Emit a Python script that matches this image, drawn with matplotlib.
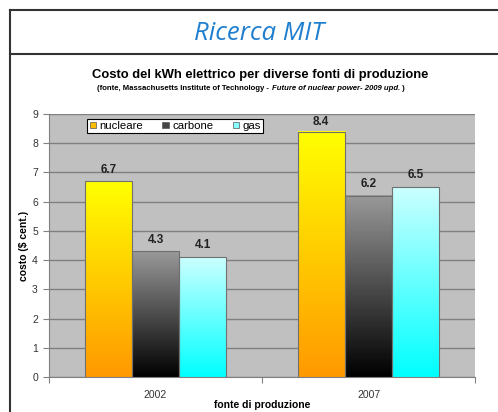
import numpy as np
import matplotlib
matplotlib.use("Agg")
import matplotlib.pyplot as plt
from matplotlib.patches import Patch

anni = ["2002", "2007"]
fonti = ["nucleare", "carbone", "gas"]
nucleare = [6.7, 8.4]
carbone = [4.3, 6.2]
gas = [4.1, 6.5]

# colori del gradiente (alto, basso) per ogni fonte
gradienti = {
    "nucleare": ("#ffff00", "#ff9900"),
    "carbone": ("#999999", "#000000"),
    "gas": ("#ccffff", "#00ffff"),
}

W, H = 498, 412
fig = plt.figure(figsize=(W / 100, H / 100), dpi=100)
fig.patch.set_facecolor("white")

# cornice della slide
def px(x, y):
    return x / W, 1 - y / H

for (x0, y0), (x1, y1) in [((10, 10), (498, 10)), ((10, 54), (498, 54)), ((10, 10), (10, 412))]:
    a, b = px(x0, y0)
    c, d = px(x1, y1)
    fig.add_artist(plt.Line2D([a, c], [b, d], color="#333333", lw=1.5))

fig.text(259 / W, 1 - 34 / H, "Ricerca MIT", fontsize=18.5, style="italic",
         color="#1f7fcf", ha="center", va="center", family="Open Sans")

fig.text(260 / W, 1 - 75 / H, "Costo del kWh elettrico per diverse fonti di produzione",
         fontsize=9.4, weight="bold", ha="center", va="center", family="Liberation Sans")

# sottotitolo con parte in corsivo, centrato a mano
parti = [("(fonte, Massachusetts Institute of Technology - ", "normal"),
         ("Future of nuclear power- 2009 upd.", "italic"),
         (" )", "normal")]
r = fig.canvas.get_renderer()
pezzi = [fig.text(0, 1 - 90 / H, s, fontsize=5.6, weight="bold", style=st,
                  va="baseline", family="Liberation Sans") for s, st in parti]
larg = [p.get_window_extent(r).width for p in pezzi]
xcur = 251 * fig.bbox.width / W - sum(larg) / 2
for p, lw_ in zip(pezzi, larg):
    p.set_x(xcur / fig.bbox.width)
    xcur += lw_

ax = fig.add_axes([49 / W, 35 / H, 426 / W, 263 / H])
ax.set_facecolor("#c0c0c0")

x = np.arange(len(anni))
w = 0.222
valori = {"nucleare": nucleare, "carbone": carbone, "gas": gas}
ymax = 9

for i, f in enumerate(fonti):
    bars = ax.bar(x + (i - 1) * w, valori[f], width=w, facecolor="none",
                  edgecolor="#707070", linewidth=0.8, zorder=4)
    alto, basso = gradienti[f]
    cmap = matplotlib.colors.LinearSegmentedColormap.from_list(f, [basso, alto])
    for b, v in zip(bars, valori[f]):
        grad = np.linspace(0, 1, 256).reshape(-1, 1)
        ax.imshow(grad, cmap=cmap, origin="lower", aspect="auto", zorder=3,
                  extent=[b.get_x(), b.get_x() + b.get_width(), 0, b.get_height()])
        # etichetta sopra la barra, tenuta dentro l'area del grafico
        ax.text(b.get_x() + b.get_width() / 2, min(v + 0.4, ymax - 0.27), f"{v}",
                ha="center", va="center", fontsize=8.5, weight="bold", color="#222222",
                family="Liberation Sans", zorder=5)

ax.set_xlim(-0.5, 1.5)
ax.set_ylim(0, ymax)
ax.set_yticks(range(10))
ax.yaxis.grid(True, color="#808080", lw=1)
ax.set_axisbelow(True)

ax.set_xticks([-0.5, 0.5, 1.5])
ax.set_xticklabels([])
ax.set_xticks(x, minor=True)
ax.set_xticklabels(anni, minor=True)
ax.tick_params(axis="x", which="minor", length=0, pad=9)
ax.tick_params(axis="x", which="major", length=4, color="#808080", direction="out")
ax.tick_params(axis="y", length=4, color="#808080", direction="out", pad=4)
for lab in ax.get_xticklabels(minor=True) + ax.get_yticklabels():
    lab.set_fontsize(7.5)
    lab.set_color("#333333")
    lab.set_family("Liberation Sans")

for s in ["top", "right"]:
    ax.spines[s].set_visible(False)
for s in ["left", "bottom"]:
    ax.spines[s].set_color("#808080")

ax.set_xlabel("fonte di produzione", fontsize=7.5, weight="bold", family="Liberation Sans", labelpad=0)
ax.set_ylabel("costo ($ cent.)", fontsize=7.5, weight="bold", family="Liberation Sans", labelpad=2)

handles = [Patch(facecolor="#ffbb00", edgecolor="#555555", lw=0.5),
           Patch(facecolor="#444444", edgecolor="#555555", lw=0.5),
           Patch(facecolor="#88ffff", edgecolor="#555555", lw=0.5)]
leg = ax.legend(handles, fonti, ncol=3, loc="upper left", bbox_to_anchor=(0.09, 0.982),
                fontsize=8.2, frameon=True, fancybox=False, edgecolor="black",
                handlelength=0.55, handleheight=0.55, handletextpad=0.3, columnspacing=1.7,
                borderpad=0.2, borderaxespad=0, framealpha=1)
leg.get_frame().set_linewidth(0.8)
for t in leg.get_texts():
    t.set_family("Liberation Sans")

fig.savefig("out.png", dpi=100)
